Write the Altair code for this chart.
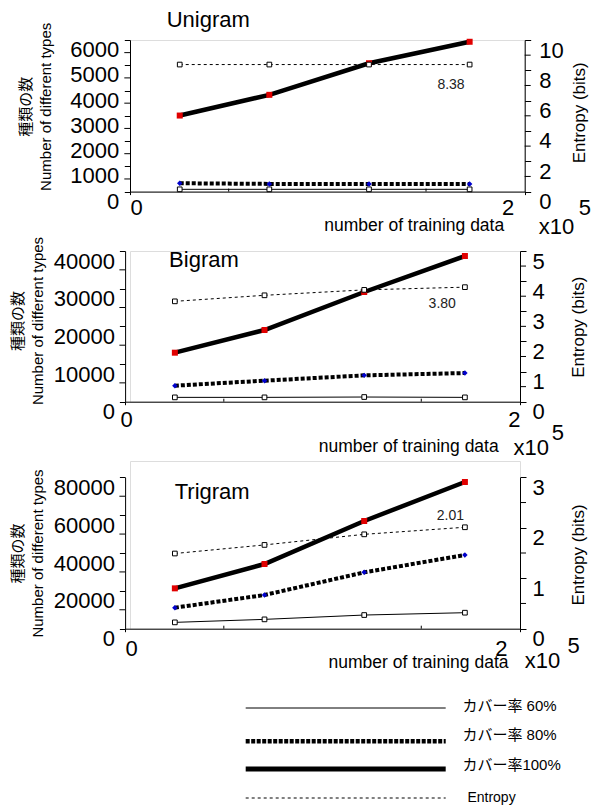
import altair as alt
import pandas as pd

# ---------------- data (x in units of 10^5 training items) ----------------
x_data = [0.252, 0.706, 1.211, 1.721]

uni_60 = [90, 90, 90, 90]
uni_80 = [330, 305, 305, 305]
uni_100 = [3010, 3830, 5080, 5930]
uni_ent = [8.38, 8.38, 8.38, 8.38]

bi_60 = [1150, 1150, 1240, 1150]
bi_80 = [4250, 5580, 6990, 7610]
bi_100 = [13010, 19030, 29120, 38670]
bi_ent = [3.33, 3.53, 3.71, 3.80]

tri_60 = [3350, 4930, 7220, 8460]
tri_80 = [11100, 17800, 29780, 38940]
tri_100 = [21320, 34180, 56910, 77530]
tri_ent = [1.49, 1.66, 1.87, 2.01]

panel_titles = ["Unigram", "Bigram", "Trigram"]
ent_labels = ["8.38", "3.80", "2.01"]
left_max = [6000, 40000, 80000]
left_minor = [500, 5000, 10000]
left_major = [1000, 10000, 20000]
right_max = [10, 5, 3]
right_minor = [1, 0.5, 0.5]
right_major = [2, 1, 1]
x_ticks = [0, 1, 2]
x_minor = [0.5, 1.5]
left_title = ["種類の数", "Number of different types"]
right_title = "Entropy (bits)"
x_title = "number of training data"
legend_labels = ["カバー率 60%", "カバー率 80%", "カバー率100%", "Entropy"]

# ---------------- layout / style ----------------
FONT = "Liberation Sans"
CJK = "'Liberation Sans', 'Noto Sans CJK JP', sans-serif"
RED = "#e00000"
BLUE = "#0000cc"

# all views share the same left edge (page x 129.3); panels 2/3 push their
# left axis 4.9 px outward so that it sits at page x 124.4
geo = [
    dict(w=394.7, h=151.6, xr=[0, 394.7], yr=[151.6, 0], ax=0,
         ltx=-104.3, lty=66.3, rtx=54.3, rty=72.3, rlp=8, xtx=373.7, xty=39,
         xlp=3, xfo=0, xlast=-11, textlabels=True,
         title=(36.7, -12.7), ent=(307.4, 49.3), x10=(408.7, 194), five=(448.7, 175.3)),
    dict(w=390.0, h=150.7, xr=[-4.9, 390.0], yr=[150.7, 0], ax=-4.9,
         ltx=-108.1, lty=69.5, rtx=58.5, rty=75.7, rlp=6, xtx=368.2, xty=49.3,
         xlp=4.5, xfo=5, xlast=-5, textlabels=False,
         title=(39.1, 15.7), ent=(298.6, 56.7), x10=(383.5, 203.7), five=(421.7, 188.7)),
    dict(w=390.0, h=167.7, xr=[-4.9, 390.0], yr=[167.7, 16.3], ax=-4.9,
         ltx=-108.1, lty=92.0, rtx=58.5, rty=93.5, rlp=6, xtx=378.0, xty=38.5,
         xlp=7, xfo=0, xlast=-13, textlabels=False,
         title=(44.7, 37.7), ent=(306.7, 58.7), x10=(394.7, 207), five=(437.4, 192)),
]
LEG_X = (115.7, 315.7, 332.4, 337.4)   # rule start/end, label x, Entropy label x
LEG_RULE_Y = [247, 280.3, 308, 337]
LEG_TEXT_Y = [244.7, 273.7, 303.7, 337]
TICK_L = 5.7
PAD_L = 5

ONE = pd.DataFrame({"a": [0]})


def common_axis():
    return dict(domainColor="black", tickColor="black", labelColor="black",
                titleColor="black", grid=False, labelOverlap=False,
                labelFont=FONT, titleFontWeight="normal", domainWidth=1, tickWidth=1)


def text_layer(txt, x, y, size=22, align="left", baseline="alphabetic",
               color="black", font=FONT):
    return alt.Chart(ONE).mark_text(
        text=txt, align=align, baseline=baseline, fontSize=size, font=font, color=color
    ).encode(x=alt.value(x), y=alt.value(y))


def make_panel(i, c60, c80, c100, ent):
    g = geo[i]
    X = alt.X(
        "x:Q",
        scale=alt.Scale(domain=[0, 2], range=g["xr"], nice=False, zero=False),
        axis=alt.Axis(values=x_ticks, format="d", title=x_title, tickSize=3,
                      labelPadding=g["xlp"], labelFontSize=22, labelFlush=True,
                      labelFlushOffset=g["xfo"],
                      labelOffset={"condition": {"test": "datum.value == 2",
                                                 "value": g["xlast"]}, "value": 0},
                      titleFont=FONT, titleFontSize=17.5, titleX=g["xtx"],
                      titleY=g["xty"], titleAlign="right",
                      titleBaseline="alphabetic", **common_axis()),
    )
    lmax, lmin, lmaj = left_max[i], left_minor[i], left_major[i]
    majors = list(range(0, lmax + 1, lmaj))
    left_kw = dict(
        orient="left", values=majors, format="d",
        tickSize=TICK_L, labelPadding=PAD_L, labelFontSize=22, labelBaseline="top",
        labels=not g["textlabels"],
        title=left_title, titleFont=CJK, titleFontSize=15, titleLineHeight=20,
        titleAngle=270, titleX=g["ltx"], titleY=g["lty"], titleAlign="center",
        titleBaseline="middle", **common_axis())
    if g["ax"]:
        left_kw["offset"] = -g["ax"]
    YL = alt.Y("v:Q", scale=alt.Scale(domain=[0, lmax], range=g["yr"], nice=False),
               axis=alt.Axis(**left_kw))

    rmax, rmin, rmaj = right_max[i], right_minor[i], right_major[i]
    nmaj = int(round(rmax / rmaj))
    rvals = [k * rmaj for k in range(nmaj + 1)]
    YR = alt.Y(
        "v:Q", scale=alt.Scale(domain=[0, rmax], range=g["yr"], nice=False),
        axis=alt.Axis(orient="right", values=rvals, format="d",
                      tickSize=6, labelPadding=g["rlp"], labelFontSize=22,
                      labelBaseline="top", title=right_title, titleFont=FONT,
                      titleFontSize=17, titleAngle=270, titleX=g["rtx"],
                      titleY=g["rty"], titleAlign="center", titleBaseline="middle",
                      **common_axis()),
    )

    d60 = pd.DataFrame({"x": x_data, "v": c60})
    d80 = pd.DataFrame({"x": x_data, "v": c80})
    d100 = pd.DataFrame({"x": x_data, "v": c100})
    dent = pd.DataFrame({"x": x_data, "v": ent})
    dmin = pd.DataFrame({"x": x_minor})
    lminor = pd.DataFrame({"v": [v for v in range(0, lmax + 1, lmin) if v % lmaj]})
    nmin = int(round(rmax / rmin))
    rminor = pd.DataFrame({"v": [k * rmin for k in range(nmin + 1)
                                 if abs((k * rmin) / rmaj - round((k * rmin) / rmaj)) > 1e-9]})

    l60 = alt.Chart(d60).mark_line(color="black", strokeWidth=1).encode(x=X, y=YL)
    l80 = alt.Chart(d80).mark_line(color="black", strokeWidth=4,
                                   strokeDash=[4, 2]).encode(x=X, y=YL)
    l100 = alt.Chart(d100).mark_line(color="black", strokeWidth=4.5).encode(x=X, y=YL)
    p60 = alt.Chart(d60).mark_square(size=22, color="white", stroke="black",
                                     strokeWidth=1, opacity=1).encode(x=X, y=YL)
    p80 = alt.Chart(d80).mark_point(shape="diamond", filled=True, color=BLUE,
                                    size=30, opacity=1).encode(x=X, y=YL)
    p100 = alt.Chart(d100).mark_square(size=36, color=RED, opacity=1).encode(x=X, y=YL)
    lt = alt.Chart(lminor).mark_rule(color="black", strokeWidth=1).encode(
        y=YL, x=alt.value(g["ax"] - TICK_L), x2=alt.value(g["ax"]))
    left = alt.layer(l60, l80, l100, p60, p80, p100, lt)

    le = alt.Chart(dent).mark_line(color="black", strokeWidth=1,
                                   strokeDash=[3, 3]).encode(x=X, y=YR)
    pe = alt.Chart(dent).mark_square(size=22, color="white", stroke="black",
                                     strokeWidth=1, opacity=1).encode(x=X, y=YR)
    rt = alt.Chart(rminor).mark_rule(color="black", strokeWidth=1).encode(
        y=YR, x=alt.value(g["w"]), x2=alt.value(g["w"] + 6))
    right = alt.layer(le, pe, rt)

    minor = alt.Chart(dmin).mark_rule(color="black", strokeWidth=1).encode(
        x=X, y=alt.value(g["h"] - 3), y2=alt.value(g["h"]))

    texts = [
        text_layer(panel_titles[i], *g["title"], size=22),
        text_layer(ent_labels[i], *g["ent"], size=14, color="#222222"),
        text_layer("x10", *g["x10"], size=22),
        text_layer("5", *g["five"], size=22),
    ]
    extra = []
    if i == 0:
        # invisible anchor fixing the top-left corner of the canvas
        extra.append(alt.Chart(ONE).mark_rect(opacity=0).encode(
            x=alt.value(-121.3), x2=alt.value(-120.3),
            y=alt.value(-29.7), y2=alt.value(-28.7)))
    if g["textlabels"]:
        # left tick labels drawn as text, at the positions of the left scale
        r0, r1 = g["yr"]
        for v in majors:
            extra.append(text_layer(str(v), g["ax"] - TICK_L - PAD_L,
                                    r0 + (r1 - r0) * v / lmax, size=22,
                                    align="right", baseline="top"))
    if i == 2:
        lx1, lx2, tx0, tx1 = LEG_X
        styles = [dict(strokeWidth=1), dict(strokeWidth=4.5, strokeDash=[4, 1.5]),
                  dict(strokeWidth=5), dict(strokeWidth=1, strokeDash=[3, 3])]
        for k, st in enumerate(styles):
            extra.append(alt.Chart(ONE).mark_rule(color="black", **st).encode(
                x=alt.value(lx1), x2=alt.value(lx2), y=alt.value(LEG_RULE_Y[k])))
        for k, lab in enumerate(legend_labels):
            extra.append(text_layer(lab, tx0 if k < 3 else tx1, LEG_TEXT_Y[k],
                                    size=15 if k < 3 else 14,
                                    baseline="middle", font=CJK))

    chart = alt.layer(left, right, minor, *texts, *extra).resolve_scale(
        y="independent").properties(width=g["w"], height=g["h"])
    return chart


p1 = make_panel(0, uni_60, uni_80, uni_100, uni_ent)
p2 = make_panel(1, bi_60, bi_80, bi_100, bi_ent)
p3 = make_panel(2, tri_60, tri_80, tri_100, tri_ent)

chart = alt.vconcat(p1, p2, p3, spacing=59, bounds="flush").properties(
    padding=0
).configure_view(stroke=None).configure(background="white")

chart.save("out.html", embed_options={"renderer": "svg", "actions": False})
